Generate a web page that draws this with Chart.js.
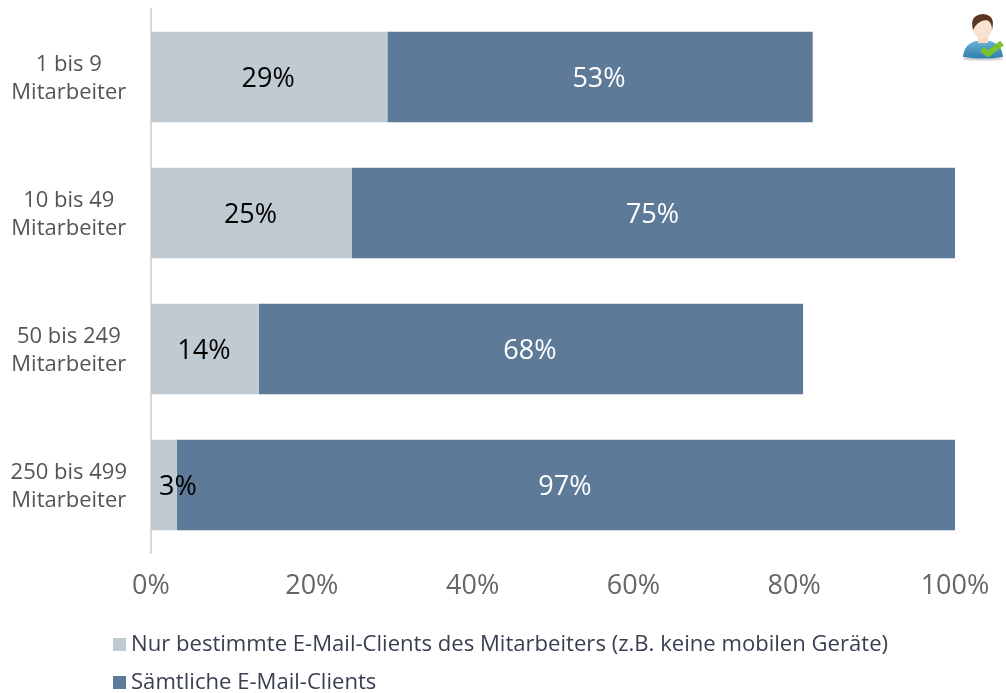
<!DOCTYPE html>
<html><head><meta charset="utf-8">
<style>html,body{margin:0;padding:0;background:#fff}#w{position:relative;width:1006px;height:693px}canvas{display:block}</style>
<script src="https://cdn.jsdelivr.net/npm/chart.js@4"></script></head>
<body><div id="w"><canvas id="c" width="1006" height="693"></canvas></div>
<script>
const categories=[["1 bis 9","Mitarbeiter"],["10 bis 49","Mitarbeiter"],["50 bis 249","Mitarbeiter"],["250 bis 499","Mitarbeiter"]];
const seriesNames=["Nur bestimmte E-Mail-Clients des Mitarbeiters (z.B. keine mobilen Geräte)","Sämtliche E-Mail-Clients"];
const partial=[29.4,25,13.4,3.2];
const full=[52.9,75,67.7,96.8];
const partialLabels=["29%","25%","14%","3%"];
const fullLabels=["53%","75%","68%","97%"];
const FONT='"Open Sans","Noto Sans",sans-serif';
const labelPlugin={id:'lbl',afterDatasetsDraw(ch){const x=ch.ctx;x.save();x.font='27px '+FONT;x.textAlign='center';x.textBaseline='middle';
 [[0,partialLabels,'#000'],[1,fullLabels,'#fff']].forEach(([d,l,col])=>{ch.getDatasetMeta(d).data.forEach((b,i)=>{x.fillStyle=col;x.fillText(l[i],(b.base+b.x)/2+(d==0&&i==3?15:0)-1,b.y+2)})});x.restore();}};
const legendPlugin={id:'lg',afterDraw(ch){const x=ch.ctx;x.save();x.font='22.1px '+FONT;x.textBaseline='middle';x.textAlign='left';
 [[644,'#c0cbd1'],[682,'#5d7a98']].forEach(([y,col],i)=>{x.fillStyle=col;x.fillRect(113,y-6,13,13);x.fillStyle='#383f50';x.fillText(seriesNames[i],131,y+1)});
 x.restore();}};
const iconPlugin={id:'ic',afterDraw(ch){const x=ch.ctx;x.save();
 x.fillStyle='rgba(0,0,0,.18)';x.beginPath();x.ellipse(983,59,20,1.6,0,0,Math.PI*2);x.fill();
 const g=x.createLinearGradient(0,40,0,58);g.addColorStop(0,'#6fb4d8');g.addColorStop(1,'#2f7fae');
 x.fillStyle=g;x.beginPath();x.moveTo(963,57);x.quadraticCurveTo(964,44,976,41);x.lineTo(990,41);x.quadraticCurveTo(1002,44,1003,57);x.quadraticCurveTo(983,60,963,57);x.fill();
 x.fillStyle='#f7d9bf';x.fillRect(978,36,10,7);
 x.fillStyle='#f9e2cf';x.beginPath();x.ellipse(982.5,27,10,12,0,0,Math.PI*2);x.fill();
 x.fillStyle='#5a3524';x.beginPath();x.moveTo(973,30);x.quadraticCurveTo(969,15,983,14);x.quadraticCurveTo(996,15,992,30);x.quadraticCurveTo(992,21,986,20);x.quadraticCurveTo(977,21,973,30);x.fill();
 x.strokeStyle='#7cc22e';x.lineWidth=6;x.lineJoin='round';x.beginPath();x.moveTo(982,49);x.lineTo(988,54);x.lineTo(1002,43);x.stroke();x.restore();}};
new Chart(document.getElementById('c'),{type:'bar',
 data:{labels:categories,datasets:[{label:seriesNames[0],data:partial,backgroundColor:'#c0cbd1',barPercentage:.665,categoryPercentage:1},{label:seriesNames[1],data:full,backgroundColor:'#5d7a98',barPercentage:.665,categoryPercentage:1}]},
 options:{indexAxis:'y',responsive:false,animation:false,
 layout:{padding:{left:0,right:51,top:9,bottom:0}},
 plugins:{legend:{display:false},tooltip:{enabled:false}},
 scales:{
  x:{stacked:true,min:0,max:100,position:'bottom',afterFit(a){a.height=140;a.paddingRight=0;a.paddingLeft=0},ticks:{stepSize:20,callback:v=>v+'%',color:'#666',font:{family:FONT,size:27},padding:9,maxRotation:0},grid:{display:false},border:{display:false}},
  y:{stacked:true,afterFit(a){a.width=151;a.paddingTop=0;a.paddingBottom=0},ticks:{color:'#555',font:{family:FONT,size:22,lineHeight:1.27},padding:16,crossAlign:'center',labelOffset:2},grid:{display:false},border:{color:'#d9d9d9',width:2}}
 }},plugins:[labelPlugin,legendPlugin,iconPlugin]});
</script></body></html>
